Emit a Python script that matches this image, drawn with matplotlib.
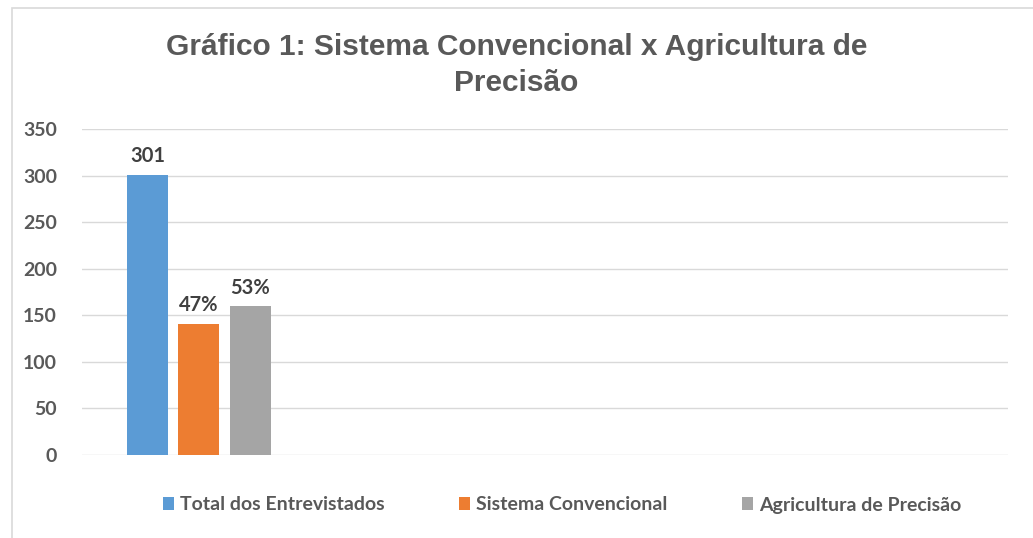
import numpy as np
import matplotlib.pyplot as plt
from matplotlib.patches import Rectangle

# Data
series = ['Total dos Entrevistados', 'Sistema Convencional', 'Agricultura de Precisão']
values = [301, 141, 160]
labels = ['301', '47%', '53%']
yticks = [0, 50, 100, 150, 200, 250, 300, 350]

colors = ['#5b9bd5', '#ed7d31', '#a5a5a5']
txt = '#595959'

fig = plt.figure(figsize=(10.33, 5.38), dpi=100)
# chart frame
fig.patches.append(Rectangle((12 / 1033, -0.1), 1.2, 1 - 8 / 538 + 0.1,
                             transform=fig.transFigure, fill=False,
                             edgecolor='#d9d9d9', linewidth=1.2))
ax = fig.add_axes([82 / 1033, 1 - 455 / 538, 926 / 1033, 326 / 538])

center = 0.1263
step = 0.0556
width = 0.0443
for i, (name, v) in enumerate(zip(series, values)):
    x = center + (i - 1) * step
    ax.bar(x, v, width=width, color=colors[i], label=name, zorder=3)
    ax.text(x, v + 9, labels[i], ha='center', va='bottom', fontsize=14.5,
            fontweight='bold', color='#404040', family='Lato')

ax.set_xlim(0, 1)
ax.set_ylim(0, 350)
ax.set_yticks(yticks)
ax.set_xticks([])
ax.grid(axis='y', color='#d9d9d9', linewidth=1, zorder=0)
for s in ax.spines.values():
    s.set_visible(False)
ax.tick_params(axis='y', length=0, pad=18, labelsize=14, labelcolor=txt)
for t in ax.get_yticklabels():
    t.set_fontweight('bold')
    t.set_family('Lato')

fig.text(0.5, 1 - 65 / 538, 'Gráfico 1: Sistema Convencional x Agricultura de\nPrecisão',
         ha='center', va='center', fontsize=21.5, fontweight='bold', color=txt,
         family='Liberation Sans', linespacing=1.35)

leg = fig.legend(loc='center', bbox_to_anchor=(562 / 1033, 1 - 505 / 538), ncol=3,
                 frameon=False, handlelength=0.6, handleheight=0.6, handletextpad=0.3,
                 columnspacing=3.8, prop={'family': 'Lato', 'size': 14, 'weight': 'bold'})
for t in leg.get_texts():
    t.set_color(txt)

fig.savefig('out.png', dpi=100)
